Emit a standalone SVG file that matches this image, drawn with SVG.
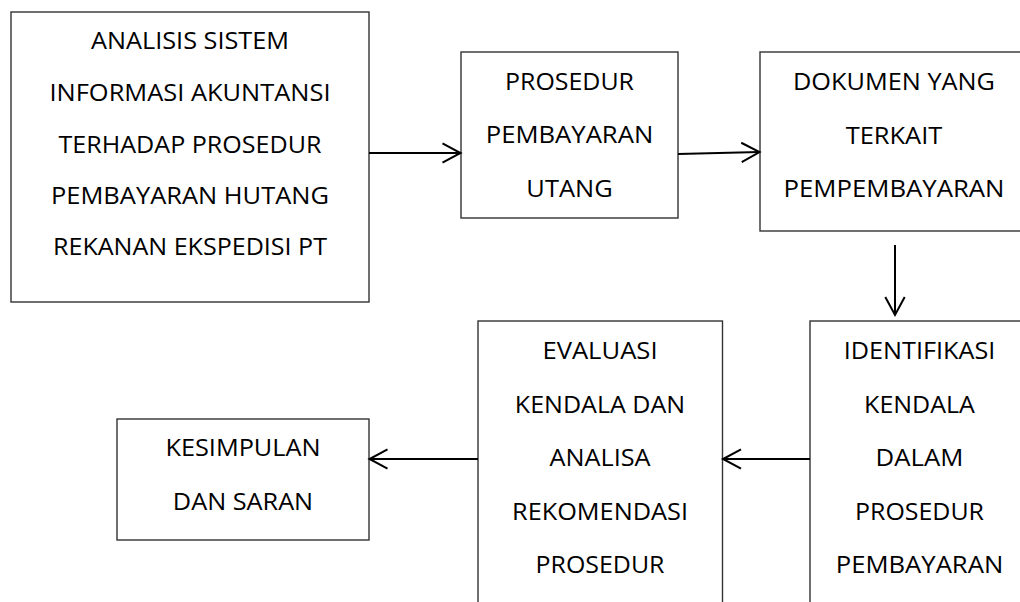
<svg xmlns="http://www.w3.org/2000/svg" width="1020" height="602" viewBox="0 0 1020 602">
  <style>
    .box { fill: #ffffff; stroke: #333333; stroke-width: 1.4; }
    .lbl { font-family: "Open Sans", "Liberation Sans", sans-serif; font-size: 23.5px; fill: #000000; text-anchor: middle; }
    .link { fill: none; stroke: #000000; stroke-width: 2; }
  </style>
  <defs>
    <marker id="open-arrow" markerUnits="userSpaceOnUse" markerWidth="24" markerHeight="24" viewBox="-20 -12 22 24" refX="0" refY="0" orient="auto">
      <path d="M-18,-9.7 L0,0 L-18,9.7" fill="none" stroke="#000000" stroke-width="2"/>
    </marker>
  </defs>
  <rect width="1020" height="602" fill="#ffffff"/>

  <g id="node-analisis">
    <rect class="box" x="11" y="12" width="358" height="290"/>
    <text class="lbl" x="190" y="49" textLength="198" lengthAdjust="spacingAndGlyphs">ANALISIS SISTEM</text>
    <text class="lbl" x="190" y="101" textLength="281" lengthAdjust="spacingAndGlyphs">INFORMASI AKUNTANSI</text>
    <text class="lbl" x="190" y="153" textLength="263" lengthAdjust="spacingAndGlyphs">TERHADAP PROSEDUR</text>
    <text class="lbl" x="190" y="204" textLength="278" lengthAdjust="spacingAndGlyphs">PEMBAYARAN HUTANG</text>
    <text class="lbl" x="190" y="255" textLength="274" lengthAdjust="spacingAndGlyphs">REKANAN EKSPEDISI PT</text>
  </g>

  <g id="node-prosedur">
    <rect class="box" x="461" y="52" width="217" height="166"/>
    <text class="lbl" x="569.5" y="90" textLength="129" lengthAdjust="spacingAndGlyphs">PROSEDUR</text>
    <text class="lbl" x="569.5" y="143" textLength="167.5" lengthAdjust="spacingAndGlyphs">PEMBAYARAN</text>
    <text class="lbl" x="569.5" y="197" textLength="86.3" lengthAdjust="spacingAndGlyphs">UTANG</text>
  </g>

  <g id="node-dokumen">
    <rect class="box" x="760" y="52" width="268" height="179"/>
    <text class="lbl" x="894" y="90" textLength="202" lengthAdjust="spacingAndGlyphs">DOKUMEN YANG</text>
    <text class="lbl" x="894" y="144" textLength="96.7" lengthAdjust="spacingAndGlyphs">TERKAIT</text>
    <text class="lbl" x="894" y="197" textLength="221" lengthAdjust="spacingAndGlyphs">PEMPEMBAYARAN</text>
  </g>

  <g id="node-identifikasi">
    <rect class="box" x="810" y="321" width="219" height="300"/>
    <text class="lbl" x="919.5" y="359" textLength="151.5" lengthAdjust="spacingAndGlyphs">IDENTIFIKASI</text>
    <text class="lbl" x="919.5" y="413" textLength="110.8" lengthAdjust="spacingAndGlyphs">KENDALA</text>
    <text class="lbl" x="919.5" y="466" textLength="87.8" lengthAdjust="spacingAndGlyphs">DALAM</text>
    <text class="lbl" x="919.5" y="520" textLength="129" lengthAdjust="spacingAndGlyphs">PROSEDUR</text>
    <text class="lbl" x="919.5" y="573" textLength="167.5" lengthAdjust="spacingAndGlyphs">PEMBAYARAN</text>
  </g>

  <g id="node-evaluasi">
    <rect class="box" x="478" y="321" width="244.5" height="300"/>
    <text class="lbl" x="600" y="359" textLength="115.1" lengthAdjust="spacingAndGlyphs">EVALUASI</text>
    <text class="lbl" x="600" y="413" textLength="170.3" lengthAdjust="spacingAndGlyphs">KENDALA DAN</text>
    <text class="lbl" x="600" y="466" textLength="101.2" lengthAdjust="spacingAndGlyphs">ANALISA</text>
    <text class="lbl" x="600" y="520" textLength="175.9" lengthAdjust="spacingAndGlyphs">REKOMENDASI</text>
    <text class="lbl" x="600" y="573" textLength="129" lengthAdjust="spacingAndGlyphs">PROSEDUR</text>
  </g>

  <g id="node-kesimpulan">
    <rect class="box" x="117" y="419" width="252" height="121"/>
    <text class="lbl" x="243" y="456" textLength="155.2" lengthAdjust="spacingAndGlyphs">KESIMPULAN</text>
    <text class="lbl" x="243" y="510" textLength="140.3" lengthAdjust="spacingAndGlyphs">DAN SARAN</text>
  </g>

  <g id="connectors">
    <line class="link" x1="369" y1="153" x2="460.5" y2="153" marker-end="url(#open-arrow)"/>
    <line class="link" x1="678" y1="154" x2="759.5" y2="152" marker-end="url(#open-arrow)"/>
    <line class="link" x1="895" y1="245" x2="895" y2="315" marker-end="url(#open-arrow)"/>
    <line class="link" x1="810" y1="459" x2="723" y2="459" marker-end="url(#open-arrow)"/>
    <line class="link" x1="478" y1="459" x2="369.5" y2="459" marker-end="url(#open-arrow)"/>
  </g>
</svg>
